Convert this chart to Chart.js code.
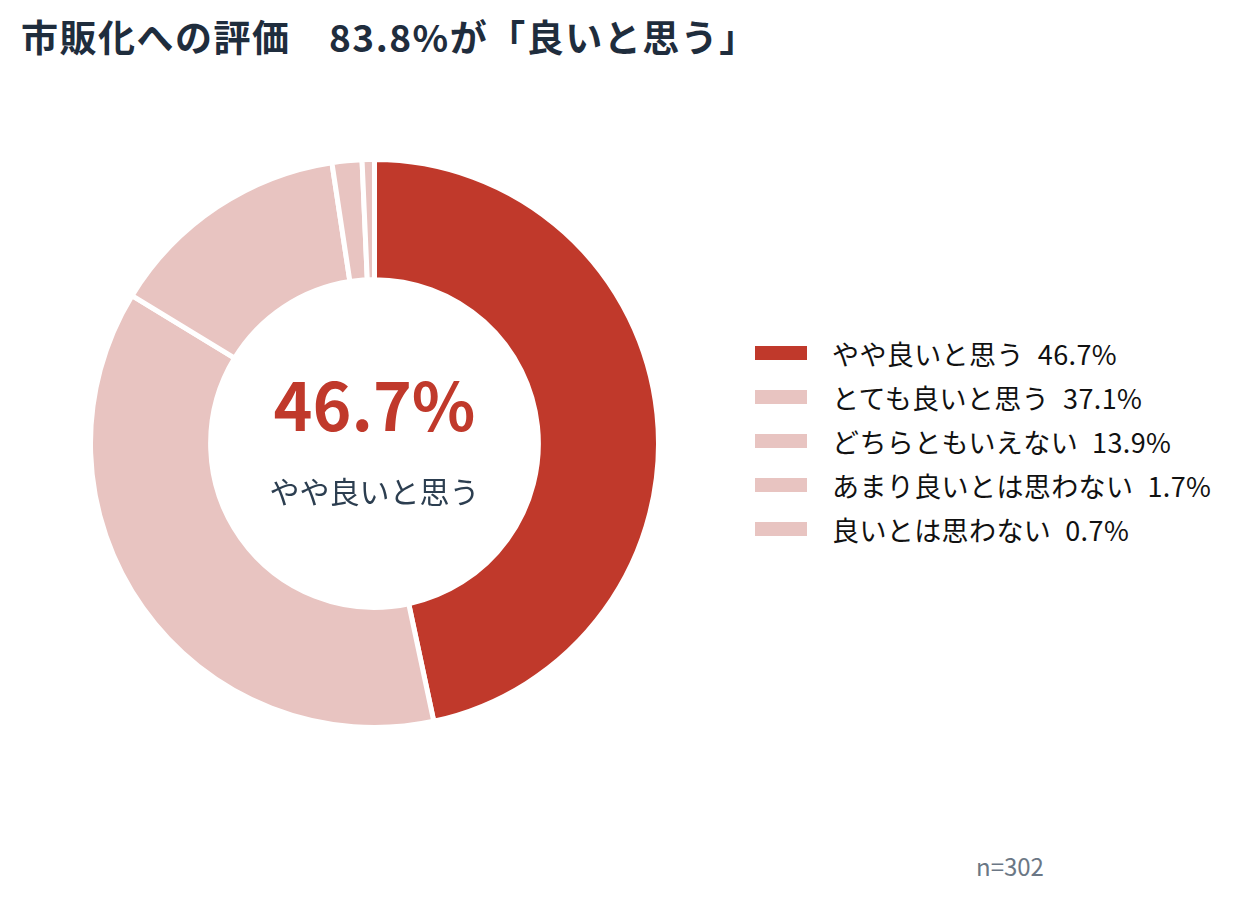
<!DOCTYPE html>
<html lang="ja">
<head>
<meta charset="utf-8">
<script src="https://cdn.jsdelivr.net/npm/chart.js@4.4.1/dist/chart.umd.min.js"></script>
<style>
  html, body { margin: 0; padding: 0; background: #fff; }
  body { width: 1244px; height: 901px; position: relative; overflow: hidden;
         font-family: "Noto Sans CJK JP", "Noto Sans", sans-serif; }
  #title { position: absolute; left: 21px; top: 14px; margin: 0; font-size: 37px; line-height: 1.2;
           font-weight: 700; color: #1f2d3d; white-space: nowrap; letter-spacing: 1.5px; }
  #wrap { position: absolute; left: 88px; top: 157px; width: 573px; height: 573px; }
  #legend { position: absolute; left: 755px; top: 331px; }
  .row { height: 44px; display: flex; align-items: center; font-size: 27px; color: #111; white-space: nowrap; letter-spacing: 0.4px; }
  .box { width: 52px; height: 14px; margin-right: 25px; flex: none; }
  .val { margin-left: 14px; }
  #note { position: absolute; left: 976px; top: 848px; font-size: 24px; color: #6b7785; }
</style>
</head>
<body>
<h1 id="title">市販化への評価　83.8%が「良いと思う」</h1>
<div id="wrap"><canvas id="c"></canvas></div>
<div id="legend"></div>
<div id="note">n=302</div>
<script>
const categories = ["やや良いと思う", "とても良いと思う", "どちらともいえない", "あまり良いとは思わない", "良いとは思わない"];
const values = [46.7, 37.1, 13.9, 1.7, 0.7];
const colors = ["#c0392b", "#e8c4c1", "#e8c4c1", "#e8c4c1", "#e8c4c1"];
const centerValue = "46.7%";
const centerLabel = "やや良いと思う";

const legend = document.getElementById('legend');
categories.forEach((c, i) => {
  const row = document.createElement('div');
  row.className = 'row';
  const b = document.createElement('span'); b.className = 'box'; b.style.background = colors[i];
  const t = document.createElement('span'); t.textContent = c;
  const v = document.createElement('span'); v.className = 'val'; v.textContent = values[i].toFixed(1) + '%';
  row.append(b, t, v);
  legend.appendChild(row);
});

const centerText = {
  id: 'centerText',
  afterDraw(chart) {
    const arc = chart.getDatasetMeta(0).data[0];
    const cx = arc.x, cy = arc.y;
    const ctx = chart.ctx;
    ctx.save();
    ctx.textAlign = 'center';
    ctx.textBaseline = 'alphabetic';
    ctx.fillStyle = '#c0392b';
    ctx.font = 'bold 66px "Noto Sans CJK JP"';
    ctx.fillText(centerValue, cx, cy - 13);
    ctx.fillStyle = '#2c3e50';
    ctx.font = '30px "Noto Sans CJK JP"';
    ctx.fillText(centerLabel, cx, cy + 59);
    ctx.restore();
  }
};

new Chart(document.getElementById('c'), {
  type: 'doughnut',
  data: {
    labels: categories,
    datasets: [{ data: values, backgroundColor: colors, borderColor: '#ffffff', borderWidth: 5, hoverOffset: 0 }]
  },
  options: {
    responsive: true,
    maintainAspectRatio: false,
    animation: false,
    cutout: '57.7%',
    plugins: { legend: { display: false }, tooltip: { enabled: false } },
    layout: { padding: 0 }
  },
  plugins: [centerText]
});
</script>
</body>
</html>
